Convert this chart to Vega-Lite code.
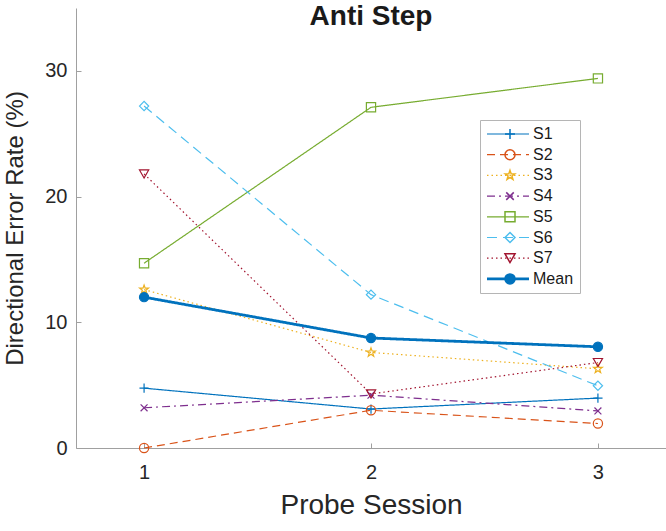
{
  "$schema": "https://vega.github.io/schema/vega-lite/v6.json",
  "width": 590,
  "height": 440,
  "autosize": {"type": "none"},
  "padding": {"left": 76, "top": 8, "right": 0, "bottom": 83},
  "background": "white",
  "config": {
    "view": {"stroke": null},
    "font": "Liberation Sans",
    "axis": {"grid": false, "domainColor": "#a0a0a0", "tickColor": "#a0a0a0", "labelColor": "#262626", "titleColor": "#262626", "labelFont": "Liberation Sans", "titleFont": "Liberation Sans", "titleFontWeight": "normal"}
  },
  "title": {"text": "Anti Step", "fontSize": 28, "fontWeight": "bold", "font": "Liberation Sans", "color": "#1a1a1a", "anchor": "middle", "frame": "group", "offset": -23},
  "data": {"values": [
    {"session": 1, "subject": "S1", "rate": 4.76},
    {"session": 2, "subject": "S1", "rate": 3.1},
    {"session": 3, "subject": "S1", "rate": 3.97},
    {"session": 1, "subject": "S2", "rate": 0},
    {"session": 2, "subject": "S2", "rate": 3.0},
    {"session": 3, "subject": "S2", "rate": 1.95},
    {"session": 1, "subject": "S3", "rate": 12.6},
    {"session": 2, "subject": "S3", "rate": 7.6},
    {"session": 3, "subject": "S3", "rate": 6.3},
    {"session": 1, "subject": "S4", "rate": 3.2},
    {"session": 2, "subject": "S4", "rate": 4.2},
    {"session": 3, "subject": "S4", "rate": 2.95},
    {"session": 1, "subject": "S5", "rate": 14.7},
    {"session": 2, "subject": "S5", "rate": 27.1},
    {"session": 3, "subject": "S5", "rate": 29.4},
    {"session": 1, "subject": "S6", "rate": 27.2},
    {"session": 2, "subject": "S6", "rate": 12.2},
    {"session": 3, "subject": "S6", "rate": 4.95},
    {"session": 1, "subject": "S7", "rate": 21.8},
    {"session": 2, "subject": "S7", "rate": 4.3},
    {"session": 3, "subject": "S7", "rate": 6.8},
    {"session": 1, "subject": "Mean", "rate": 12.0},
    {"session": 2, "subject": "Mean", "rate": 8.75},
    {"session": 3, "subject": "Mean", "rate": 8.05}
  ]},
  "encoding": {
    "x": {"field": "session", "type": "quantitative", "scale": {"domain": [0.7, 3.3], "nice": false},
      "axis": {"values": [1, 2, 3], "format": "d", "tickSize": -5, "labelPadding": 19, "labelFontSize": 20, "title": "Probe Session", "titleFontSize": 28, "titlePadding": 9}},
    "y": {"field": "rate", "type": "quantitative", "scale": {"domain": [0, 35], "nice": false},
      "axis": {"values": [0, 10, 20, 30], "tickSize": -5, "labelPadding": 14, "labelFontSize": 20, "title": "Directional Error Rate (%)", "titleFontSize": 24, "titlePadding": 17}}
  },
  "layer": [
    {
      "transform": [{"filter": "datum.subject !== 'Mean'"}],
      "mark": {"type": "line", "strokeWidth": 1.2},
      "encoding": {
        "color": {"field": "subject", "type": "nominal",
          "scale": {"domain": ["S1", "S2", "S3", "S4", "S5", "S6", "S7", "Mean"], "range": ["#0072BD", "#D95319", "#EDB120", "#7E2F8E", "#77AC30", "#4DBEEE", "#A2142F", "#0072BD"]},
          "legend": {"orient": "none", "legendX": 404, "legendY": 112, "title": null, "symbolType": "M-3,0L3,0", "symbolSize": 196, "symbolOffset": 14, "labelOffset": 17, "padding": 6, "rowPadding": 4.7, "strokeColor": "#b5b5b5", "fillColor": "white", "labelFontSize": 16, "labelFont": "Liberation Sans", "labelColor": "#1a1a1a", "zindex": 0,
            "encode": {"symbols": {"update": {"strokeWidth": {"signal": "datum.value === 'Mean' ? 2.8 : 1.2"}}}}}},
        "strokeDash": {"field": "subject", "type": "nominal",
          "scale": {"domain": ["S1", "S2", "S3", "S4", "S5", "S6", "S7", "Mean"], "range": [[1, 0], [8, 5], [1.5, 3], [8, 4, 2, 4], [1, 0], [10, 6], [1.5, 3], [1, 0]]}}
      }
    },
    {
      "transform": [{"filter": "datum.subject === 'Mean'"}],
      "mark": {"type": "line", "strokeWidth": 2.8},
      "encoding": {
        "color": {"field": "subject", "type": "nominal"},
        "strokeDash": {"field": "subject", "type": "nominal"}
      }
    },
    {
      "mark": {"type": "point", "size": 85, "strokeWidth": 1.2, "opacity": 1},
      "encoding": {
        "stroke": {"field": "subject", "type": "nominal", "sort": null,
          "scale": {"range": ["#0072BD", "#D95319", "#EDB120", "#7E2F8E", "#77AC30", "#4DBEEE", "#A2142F", "#0072BD"]},
          "legend": {"orient": "none", "legendX": 404, "legendY": 112, "title": null, "padding": 6, "rowPadding": 4.7, "symbolOffset": 16, "labelFontSize": 16, "labelFont": "Liberation Sans", "labelColor": "transparent", "labelExpr": "''", "zindex": 2}},
        "fill": {"field": "subject", "type": "nominal", "sort": null,
          "scale": {"range": ["transparent", "transparent", "transparent", "transparent", "transparent", "transparent", "transparent", "#0072BD"]}},
        "shape": {"field": "subject", "type": "nominal", "sort": null,
          "scale": {"range": ["M-1,0L1,0M0,-1L0,1", "circle", "M0,-1L0.235,-0.324L0.951,-0.309L0.38,0.124L0.588,0.809L0,0.4L-0.588,0.809L-0.38,0.124L-0.951,-0.309L-0.235,-0.324Z", "M-0.75,-0.75L0.75,0.75M-0.75,0.75L0.75,-0.75", "square", "diamond", "triangle-down", "circle"]}}
      }
    }
  ]
}
